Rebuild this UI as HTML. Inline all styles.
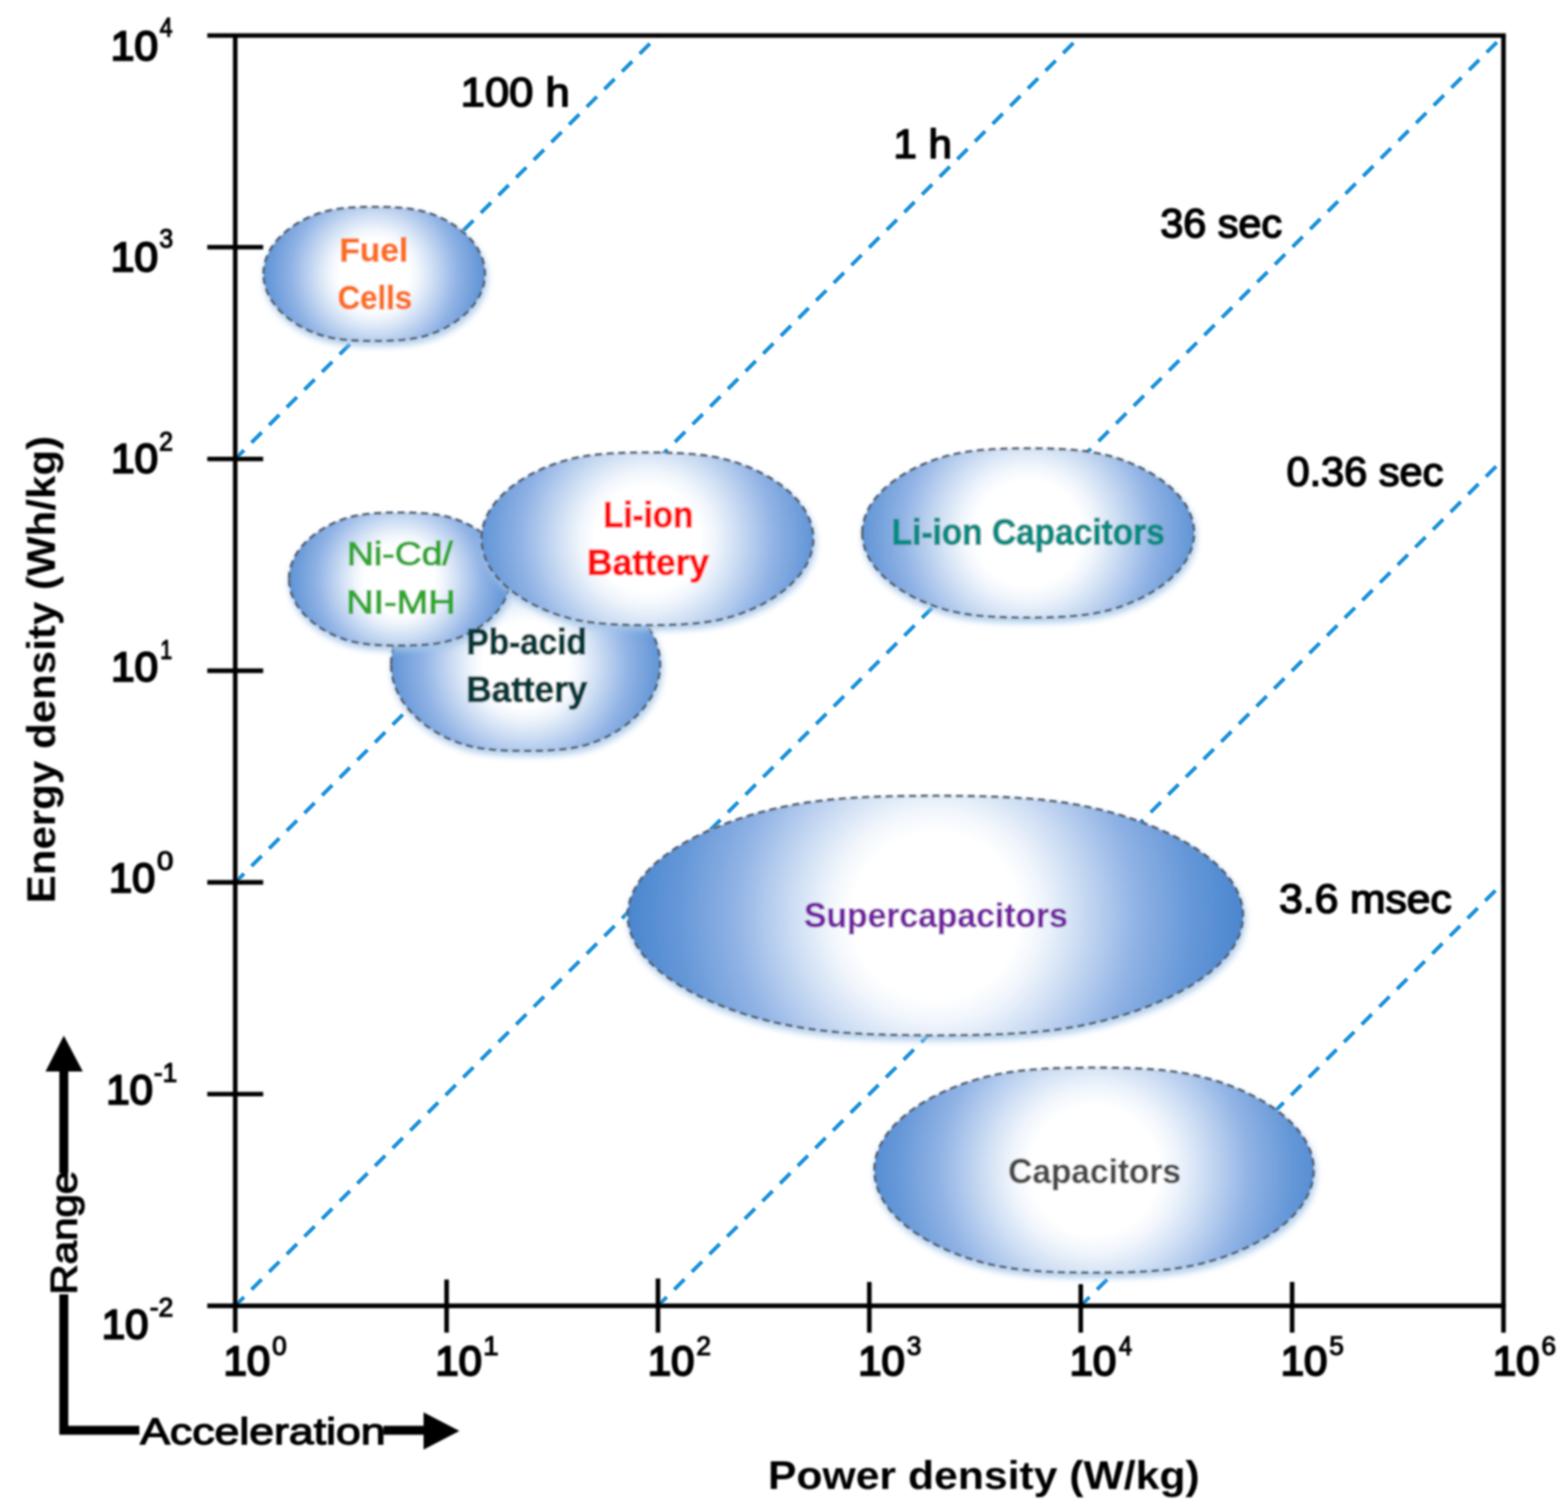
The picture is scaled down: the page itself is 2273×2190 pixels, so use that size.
<!DOCTYPE html>
<html lang="en"><head><meta charset="utf-8"><title>Ragone plot</title>
<style>html,body{margin:0;padding:0;background:#fff}body{width:2273px;height:2190px;overflow:hidden}svg{display:block}text{font-family:"Liberation Sans", sans-serif}</style>
</head><body>
<svg xmlns="http://www.w3.org/2000/svg" width="2273" height="2190" viewBox="0 0 2273 2190">
<defs>
<radialGradient id="g_pb" gradientUnits="userSpaceOnUse" cx="762" cy="963" r="228.14999999999998">
<stop offset="0" stop-color="#ffffff"/><stop offset="0.27" stop-color="#ffffff"/><stop offset="0.345" stop-color="#f1f6fc"/><stop offset="0.47" stop-color="#cbdcf3"/><stop offset="0.65" stop-color="#91b3e5"/><stop offset="0.83" stop-color="#6698d8"/><stop offset="1" stop-color="#4a86cf"/></radialGradient>
<radialGradient id="g_nicd" gradientUnits="userSpaceOnUse" cx="579" cy="839.3" r="184.0">
<stop offset="0" stop-color="#ffffff"/><stop offset="0.27" stop-color="#ffffff"/><stop offset="0.345" stop-color="#f1f6fc"/><stop offset="0.47" stop-color="#cbdcf3"/><stop offset="0.65" stop-color="#91b3e5"/><stop offset="0.83" stop-color="#6698d8"/><stop offset="1" stop-color="#4a86cf"/></radialGradient>
<radialGradient id="g_fuel" gradientUnits="userSpaceOnUse" cx="542.5" cy="397" r="184.575">
<stop offset="0" stop-color="#ffffff"/><stop offset="0.27" stop-color="#ffffff"/><stop offset="0.345" stop-color="#f1f6fc"/><stop offset="0.47" stop-color="#cbdcf3"/><stop offset="0.65" stop-color="#91b3e5"/><stop offset="0.83" stop-color="#6698d8"/><stop offset="1" stop-color="#4a86cf"/></radialGradient>
<radialGradient id="g_liion" gradientUnits="userSpaceOnUse" cx="938.5" cy="781" r="281.385">
<stop offset="0" stop-color="#ffffff"/><stop offset="0.27" stop-color="#ffffff"/><stop offset="0.345" stop-color="#f1f6fc"/><stop offset="0.47" stop-color="#cbdcf3"/><stop offset="0.65" stop-color="#91b3e5"/><stop offset="0.83" stop-color="#6698d8"/><stop offset="1" stop-color="#4a86cf"/></radialGradient>
<radialGradient id="g_lic" gradientUnits="userSpaceOnUse" cx="1490.5" cy="772.5" r="281.385">
<stop offset="0" stop-color="#ffffff"/><stop offset="0.27" stop-color="#ffffff"/><stop offset="0.345" stop-color="#f1f6fc"/><stop offset="0.47" stop-color="#cbdcf3"/><stop offset="0.65" stop-color="#91b3e5"/><stop offset="0.83" stop-color="#6698d8"/><stop offset="1" stop-color="#4a86cf"/></radialGradient>
<radialGradient id="g_sup" gradientUnits="userSpaceOnUse" cx="1356" cy="1327" r="446.0">
<stop offset="0" stop-color="#ffffff"/><stop offset="0.27" stop-color="#ffffff"/><stop offset="0.345" stop-color="#f1f6fc"/><stop offset="0.47" stop-color="#cbdcf3"/><stop offset="0.65" stop-color="#91b3e5"/><stop offset="0.83" stop-color="#6698d8"/><stop offset="1" stop-color="#4a86cf"/></radialGradient>
<radialGradient id="g_cap" gradientUnits="userSpaceOnUse" cx="1586" cy="1696" r="343.98">
<stop offset="0" stop-color="#ffffff"/><stop offset="0.27" stop-color="#ffffff"/><stop offset="0.345" stop-color="#f1f6fc"/><stop offset="0.47" stop-color="#cbdcf3"/><stop offset="0.65" stop-color="#91b3e5"/><stop offset="0.83" stop-color="#6698d8"/><stop offset="1" stop-color="#4a86cf"/></radialGradient>
<filter id="glow" x="-20%" y="-20%" width="140%" height="140%"><feGaussianBlur stdDeviation="5"/></filter>
<filter id="soft2" x="-5%" y="-5%" width="110%" height="110%"><feGaussianBlur stdDeviation="1.2"/></filter>
<filter id="soft" x="-5%" y="-5%" width="110%" height="110%"><feGaussianBlur stdDeviation="1.5"/></filter>
</defs>
<rect width="2273" height="2190" fill="#ffffff"/>
<g stroke="#1b92da" stroke-width="5.6" stroke-dasharray="20.8 15.4" fill="none" filter="url(#soft2)">
<line x1="341.0" y1="665.2" x2="953.8" y2="51.5" stroke-dashoffset="2.8"/>
<line x1="341.0" y1="1278.9" x2="1566.7" y2="51.5" stroke-dashoffset="2.8"/>
<line x1="341.0" y1="1892.6" x2="2179.5" y2="51.5" stroke-dashoffset="2.8"/>
<line x1="953.8" y1="1892.6" x2="2179.5" y2="665.2" stroke-dashoffset="2.8"/>
<line x1="1566.7" y1="1892.6" x2="2179.5" y2="1278.9" stroke-dashoffset="2.8"/>
</g>
<g filter="url(#soft)">
<g stroke="#000" stroke-width="6.6" fill="none" stroke-linecap="butt">
<line x1="300.5" y1="51.5" x2="2182.8" y2="51.5"/>
<line x1="300.5" y1="1892.6" x2="2182.8" y2="1892.6"/>
<line x1="341.0" y1="51.5" x2="341.0" y2="1931.5"/>
<line x1="2179.5" y1="51.5" x2="2179.5" y2="1931.5"/>
<line x1="300.5" y1="1585.8" x2="381.5" y2="1585.8"/>
<line x1="300.5" y1="1278.9" x2="381.5" y2="1278.9"/>
<line x1="300.5" y1="972.1" x2="381.5" y2="972.1"/>
<line x1="300.5" y1="665.2" x2="381.5" y2="665.2"/>
<line x1="300.5" y1="358.3" x2="381.5" y2="358.3"/>
<line x1="647.4" y1="1854.5" x2="647.4" y2="1931.5"/>
<line x1="953.8" y1="1853" x2="953.8" y2="1931.5"/>
<line x1="1260.2" y1="1858" x2="1260.2" y2="1931.5"/>
<line x1="1566.7" y1="1861" x2="1566.7" y2="1931.5"/>
<line x1="1873.1" y1="1858" x2="1873.1" y2="1931.5"/>
</g>
<polygon points="567.0,969.0 567.2,963.2 567.7,957.4 568.7,951.6 570.0,945.8 571.7,940.1 573.7,934.4 576.1,928.8 578.9,923.3 582.0,917.9 585.5,912.5 589.3,907.3 593.4,902.2 597.9,897.2 602.6,892.4 607.7,887.7 613.1,883.1 618.8,878.7 624.7,874.5 630.9,870.5 637.4,866.7 644.1,863.1 651.0,859.7 658.2,856.6 665.5,853.8 673.0,851.3 680.7,849.1 688.6,847.3 696.6,845.8 704.8,844.7 713.0,843.7 721.4,843.0 729.8,842.5 738.3,842.1 746.8,841.9 755.4,841.7 764.0,841.7 772.6,841.7 781.2,841.9 789.7,842.1 798.2,842.5 806.6,843.0 815.0,843.7 823.2,844.7 831.4,845.8 839.4,847.3 847.3,849.1 855.0,851.3 862.5,853.8 869.8,856.6 877.0,859.7 883.9,863.1 890.6,866.7 897.1,870.5 903.3,874.5 909.2,878.7 914.9,883.1 920.3,887.7 925.4,892.4 930.1,897.2 934.6,902.2 938.7,907.3 942.5,912.5 946.0,917.9 949.1,923.3 951.9,928.8 954.3,934.4 956.3,940.1 958.0,945.8 959.3,951.6 960.3,957.4 960.8,963.2 961.0,969.0 960.8,974.8 960.3,980.6 959.3,986.4 958.0,992.2 956.3,997.9 954.3,1003.6 951.9,1009.2 949.1,1014.7 946.0,1020.1 942.5,1025.5 938.7,1030.7 934.6,1035.8 930.1,1040.8 925.4,1045.6 920.3,1050.3 914.9,1054.9 909.2,1059.3 903.3,1063.5 897.1,1067.5 890.6,1071.3 883.9,1074.9 877.0,1078.3 869.8,1081.4 862.5,1084.2 855.0,1086.7 847.3,1088.9 839.4,1090.7 831.4,1092.2 823.2,1093.3 815.0,1094.3 806.6,1095.0 798.2,1095.5 789.7,1095.9 781.2,1096.1 772.6,1096.3 764.0,1096.3 755.4,1096.3 746.8,1096.1 738.3,1095.9 729.8,1095.5 721.4,1095.0 713.0,1094.3 704.8,1093.3 696.6,1092.2 688.6,1090.7 680.7,1088.9 673.0,1086.7 665.5,1084.2 658.2,1081.4 651.0,1078.3 644.1,1074.9 637.4,1071.3 630.9,1067.5 624.7,1063.5 618.8,1059.3 613.1,1054.9 607.7,1050.3 602.6,1045.6 597.9,1040.8 593.4,1035.8 589.3,1030.7 585.5,1025.5 582.0,1020.1 578.9,1014.7 576.1,1009.2 573.7,1003.6 571.7,997.9 570.0,992.2 568.7,986.4 567.7,980.6 567.2,974.8" stroke-linejoin="round" fill="#a6c8ea" opacity="0.85" filter="url(#glow)"/>
<polygon points="567.0,963.0 567.2,957.3 567.7,951.5 568.7,945.8 570.0,940.2 571.6,934.5 573.6,929.0 576.0,923.4 578.8,918.0 581.8,912.7 585.3,907.4 589.0,902.3 593.1,897.2 597.5,892.3 602.3,887.6 607.3,882.9 612.6,878.5 618.2,874.1 624.1,870.0 630.3,866.0 636.7,862.3 643.3,858.7 650.2,855.4 657.2,852.4 664.5,849.6 672.0,847.1 679.6,845.0 687.4,843.2 695.3,841.8 703.4,840.6 711.5,839.7 719.8,839.0 728.1,838.5 736.5,838.1 745.0,837.9 753.5,837.7 762.0,837.7 770.5,837.7 779.0,837.9 787.5,838.1 795.9,838.5 804.2,839.0 812.5,839.7 820.6,840.6 828.7,841.8 836.6,843.2 844.4,845.0 852.0,847.1 859.5,849.6 866.8,852.4 873.8,855.4 880.7,858.7 887.3,862.3 893.7,866.0 899.9,870.0 905.8,874.1 911.4,878.5 916.7,882.9 921.7,887.6 926.5,892.3 930.9,897.2 935.0,902.3 938.7,907.4 942.2,912.7 945.2,918.0 948.0,923.4 950.4,929.0 952.4,934.5 954.0,940.2 955.3,945.8 956.3,951.5 956.8,957.3 957.0,963.0 956.8,968.7 956.3,974.5 955.3,980.2 954.0,985.8 952.4,991.5 950.4,997.0 948.0,1002.6 945.2,1008.0 942.2,1013.3 938.7,1018.6 935.0,1023.7 930.9,1028.8 926.5,1033.7 921.7,1038.4 916.7,1043.1 911.4,1047.5 905.8,1051.9 899.9,1056.0 893.7,1060.0 887.3,1063.7 880.7,1067.3 873.8,1070.6 866.8,1073.6 859.5,1076.4 852.0,1078.9 844.4,1081.0 836.6,1082.8 828.7,1084.2 820.6,1085.4 812.5,1086.3 804.2,1087.0 795.9,1087.5 787.5,1087.9 779.0,1088.1 770.5,1088.3 762.0,1088.3 753.5,1088.3 745.0,1088.1 736.5,1087.9 728.1,1087.5 719.8,1087.0 711.5,1086.3 703.4,1085.4 695.3,1084.2 687.4,1082.8 679.6,1081.0 672.0,1078.9 664.5,1076.4 657.2,1073.6 650.2,1070.6 643.3,1067.3 636.7,1063.7 630.3,1060.0 624.1,1056.0 618.2,1051.9 612.6,1047.5 607.3,1043.1 602.3,1038.4 597.5,1033.7 593.1,1028.8 589.0,1023.7 585.3,1018.6 581.8,1013.3 578.8,1008.0 576.0,1002.6 573.6,997.0 571.6,991.5 570.0,985.8 568.7,980.2 567.7,974.5 567.2,968.7" stroke-linejoin="round" fill="url(#g_pb)" stroke="#555d68" stroke-width="3.6" stroke-dasharray="10.5 6.5"/>
<polygon points="419.0,845.3 419.2,840.8 419.6,836.3 420.4,831.8 421.5,827.4 422.8,823.0 424.5,818.6 426.5,814.3 428.8,810.0 431.3,805.8 434.2,801.7 437.3,797.7 440.7,793.7 444.4,789.9 448.3,786.1 452.5,782.5 456.9,779.0 461.6,775.6 466.4,772.3 471.6,769.2 476.9,766.3 482.4,763.5 488.1,760.9 494.0,758.5 500.0,756.3 506.2,754.4 512.5,752.7 519.0,751.3 525.6,750.2 532.3,749.3 539.1,748.6 545.9,748.0 552.9,747.6 559.9,747.3 566.9,747.1 573.9,747.0 581.0,747.0 588.1,747.0 595.1,747.1 602.1,747.3 609.1,747.6 616.1,748.0 622.9,748.6 629.7,749.3 636.4,750.2 643.0,751.3 649.5,752.7 655.8,754.4 662.0,756.3 668.0,758.5 673.9,760.9 679.6,763.5 685.1,766.3 690.4,769.2 695.6,772.3 700.4,775.6 705.1,779.0 709.5,782.5 713.7,786.1 717.6,789.9 721.3,793.7 724.7,797.7 727.8,801.7 730.7,805.8 733.2,810.0 735.5,814.3 737.5,818.6 739.2,823.0 740.5,827.4 741.6,831.8 742.4,836.3 742.8,840.8 743.0,845.3 742.8,849.8 742.4,854.3 741.6,858.8 740.5,863.2 739.2,867.6 737.5,872.0 735.5,876.3 733.2,880.6 730.7,884.8 727.8,888.9 724.7,892.9 721.3,896.9 717.6,900.7 713.7,904.5 709.5,908.1 705.1,911.6 700.4,915.0 695.6,918.3 690.4,921.4 685.1,924.3 679.6,927.1 673.9,929.7 668.0,932.1 662.0,934.3 655.8,936.2 649.5,937.9 643.0,939.3 636.4,940.4 629.7,941.3 622.9,942.0 616.1,942.6 609.1,943.0 602.1,943.3 595.1,943.5 588.1,943.6 581.0,943.6 573.9,943.6 566.9,943.5 559.9,943.3 552.9,943.0 545.9,942.6 539.1,942.0 532.3,941.3 525.6,940.4 519.0,939.3 512.5,937.9 506.2,936.2 500.0,934.3 494.0,932.1 488.1,929.7 482.4,927.1 476.9,924.3 471.6,921.4 466.4,918.3 461.6,915.0 456.9,911.6 452.5,908.1 448.3,904.5 444.4,900.7 440.7,896.9 437.3,892.9 434.2,888.9 431.3,884.8 428.8,880.6 426.5,876.3 424.5,872.0 422.8,867.6 421.5,863.2 420.4,858.8 419.6,854.3 419.2,849.8" stroke-linejoin="round" fill="#a6c8ea" opacity="0.85" filter="url(#glow)"/>
<polygon points="419.0,839.3 419.2,834.9 419.6,830.5 420.4,826.1 421.4,821.7 422.8,817.4 424.5,813.1 426.4,808.9 428.6,804.7 431.2,800.6 434.0,796.6 437.1,792.6 440.4,788.8 444.1,785.0 447.9,781.3 452.1,777.8 456.4,774.3 461.0,771.0 465.9,767.8 470.9,764.8 476.2,761.9 481.6,759.2 487.2,756.6 493.0,754.3 499.0,752.1 505.1,750.3 511.4,748.6 517.8,747.3 524.3,746.1 530.9,745.2 537.6,744.5 544.4,744.0 551.2,743.6 558.1,743.3 565.1,743.1 572.0,743.0 579.0,743.0 586.0,743.0 592.9,743.1 599.9,743.3 606.8,743.6 613.6,744.0 620.4,744.5 627.1,745.2 633.7,746.1 640.2,747.3 646.6,748.6 652.9,750.3 659.0,752.1 665.0,754.3 670.8,756.6 676.4,759.2 681.8,761.9 687.1,764.8 692.1,767.8 697.0,771.0 701.6,774.3 705.9,777.8 710.1,781.3 713.9,785.0 717.6,788.8 720.9,792.6 724.0,796.6 726.8,800.6 729.4,804.7 731.6,808.9 733.5,813.1 735.2,817.4 736.6,821.7 737.6,826.1 738.4,830.5 738.8,834.9 739.0,839.3 738.8,843.7 738.4,848.1 737.6,852.5 736.6,856.9 735.2,861.2 733.5,865.5 731.6,869.7 729.4,873.9 726.8,878.0 724.0,882.0 720.9,886.0 717.6,889.8 713.9,893.6 710.1,897.3 705.9,900.8 701.6,904.3 697.0,907.6 692.1,910.8 687.1,913.8 681.8,916.7 676.4,919.4 670.8,922.0 665.0,924.3 659.0,926.5 652.9,928.3 646.6,930.0 640.2,931.3 633.7,932.5 627.1,933.4 620.4,934.1 613.6,934.6 606.8,935.0 599.9,935.3 592.9,935.5 586.0,935.6 579.0,935.6 572.0,935.6 565.1,935.5 558.1,935.3 551.2,935.0 544.4,934.6 537.6,934.1 530.9,933.4 524.3,932.5 517.8,931.3 511.4,930.0 505.1,928.3 499.0,926.5 493.0,924.3 487.2,922.0 481.6,919.4 476.2,916.7 470.9,913.8 465.9,910.8 461.0,907.6 456.4,904.3 452.1,900.8 447.9,897.3 444.1,893.6 440.4,889.8 437.1,886.0 434.0,882.0 431.2,878.0 428.6,873.9 426.4,869.7 424.5,865.5 422.8,861.2 421.4,856.9 420.4,852.5 419.6,848.1 419.2,843.7" stroke-linejoin="round" fill="url(#g_nicd)" stroke="#555d68" stroke-width="3.6" stroke-dasharray="10.5 6.5"/>
<polygon points="382.0,403.0 382.2,398.5 382.6,393.9 383.4,389.4 384.5,385.0 385.9,380.5 387.5,376.1 389.5,371.8 391.8,367.5 394.4,363.2 397.2,359.1 400.4,355.0 403.8,351.0 407.4,347.2 411.4,343.4 415.6,339.7 420.0,336.2 424.7,332.8 429.6,329.5 434.7,326.4 440.0,323.4 445.6,320.6 451.3,318.0 457.2,315.6 463.2,313.4 469.5,311.5 475.8,309.8 482.3,308.4 488.9,307.2 495.6,306.3 502.4,305.6 509.3,305.0 516.3,304.6 523.3,304.3 530.3,304.1 537.4,304.0 544.5,304.0 551.6,304.0 558.7,304.1 565.7,304.3 572.7,304.6 579.7,305.0 586.6,305.6 593.4,306.3 600.1,307.2 606.7,308.4 613.2,309.8 619.5,311.5 625.8,313.4 631.8,315.6 637.7,318.0 643.4,320.6 649.0,323.4 654.3,326.4 659.4,329.5 664.3,332.8 669.0,336.2 673.4,339.7 677.6,343.4 681.6,347.2 685.2,351.0 688.6,355.0 691.8,359.1 694.6,363.2 697.2,367.5 699.5,371.8 701.5,376.1 703.1,380.5 704.5,385.0 705.6,389.4 706.4,393.9 706.8,398.5 707.0,403.0 706.8,407.5 706.4,412.1 705.6,416.6 704.5,421.0 703.1,425.5 701.5,429.9 699.5,434.2 697.2,438.5 694.6,442.8 691.8,446.9 688.6,451.0 685.2,455.0 681.6,458.8 677.6,462.6 673.4,466.3 669.0,469.8 664.3,473.2 659.4,476.5 654.3,479.6 649.0,482.6 643.4,485.4 637.7,488.0 631.8,490.4 625.8,492.6 619.5,494.5 613.2,496.2 606.7,497.6 600.1,498.8 593.4,499.7 586.6,500.4 579.7,501.0 572.7,501.4 565.7,501.7 558.7,501.9 551.6,502.0 544.5,502.0 537.4,502.0 530.3,501.9 523.3,501.7 516.3,501.4 509.3,501.0 502.4,500.4 495.6,499.7 488.9,498.8 482.3,497.6 475.8,496.2 469.5,494.5 463.2,492.6 457.2,490.4 451.3,488.0 445.6,485.4 440.0,482.6 434.7,479.6 429.6,476.5 424.7,473.2 420.0,469.8 415.6,466.3 411.4,462.6 407.4,458.8 403.8,455.0 400.4,451.0 397.2,446.9 394.4,442.8 391.8,438.5 389.5,434.2 387.5,429.9 385.9,425.5 384.5,421.0 383.4,416.6 382.6,412.1 382.2,407.5" stroke-linejoin="round" fill="#a6c8ea" opacity="0.85" filter="url(#glow)"/>
<polygon points="382.0,397.0 382.2,392.6 382.6,388.1 383.4,383.7 384.4,379.3 385.8,375.0 387.5,370.6 389.4,366.4 391.7,362.2 394.2,358.0 397.0,354.0 400.1,350.0 403.5,346.1 407.1,342.3 411.0,338.6 415.2,335.0 419.5,331.6 424.2,328.2 429.0,325.0 434.1,321.9 439.3,319.0 444.8,316.3 450.4,313.7 456.3,311.4 462.2,309.2 468.4,307.3 474.7,305.7 481.1,304.3 487.6,303.2 494.2,302.2 501.0,301.5 507.8,301.0 514.6,300.6 521.6,300.3 528.5,300.1 535.5,300.0 542.5,300.0 549.5,300.0 556.5,300.1 563.4,300.3 570.4,300.6 577.2,301.0 584.0,301.5 590.8,302.2 597.4,303.2 603.9,304.3 610.3,305.7 616.6,307.3 622.8,309.2 628.7,311.4 634.6,313.7 640.2,316.3 645.7,319.0 650.9,321.9 656.0,325.0 660.8,328.2 665.5,331.6 669.8,335.0 674.0,338.6 677.9,342.3 681.5,346.1 684.9,350.0 688.0,354.0 690.8,358.0 693.3,362.2 695.6,366.4 697.5,370.6 699.2,375.0 700.6,379.3 701.6,383.7 702.4,388.1 702.8,392.6 703.0,397.0 702.8,401.4 702.4,405.9 701.6,410.3 700.6,414.7 699.2,419.0 697.5,423.4 695.6,427.6 693.3,431.8 690.8,436.0 688.0,440.0 684.9,444.0 681.5,447.9 677.9,451.7 674.0,455.4 669.8,459.0 665.5,462.4 660.8,465.8 656.0,469.0 650.9,472.1 645.7,475.0 640.2,477.7 634.6,480.3 628.7,482.6 622.8,484.8 616.6,486.7 610.3,488.3 603.9,489.7 597.4,490.8 590.8,491.8 584.0,492.5 577.2,493.0 570.4,493.4 563.4,493.7 556.5,493.9 549.5,494.0 542.5,494.0 535.5,494.0 528.5,493.9 521.6,493.7 514.6,493.4 507.8,493.0 501.0,492.5 494.2,491.8 487.6,490.8 481.1,489.7 474.7,488.3 468.4,486.7 462.2,484.8 456.3,482.6 450.4,480.3 444.8,477.7 439.3,475.0 434.1,472.1 429.0,469.0 424.2,465.8 419.5,462.4 415.2,459.0 411.0,455.4 407.1,451.7 403.5,447.9 400.1,444.0 397.0,440.0 394.2,436.0 391.7,431.8 389.4,427.6 387.5,423.4 385.8,419.0 384.4,414.7 383.4,410.3 382.6,405.9 382.2,401.4" stroke-linejoin="round" fill="url(#g_fuel)" stroke="#555d68" stroke-width="3.6" stroke-dasharray="10.5 6.5"/>
<polygon points="698.0,787.0 698.2,781.2 698.9,775.4 700.1,769.6 701.7,763.9 703.7,758.1 706.3,752.5 709.2,746.9 712.6,741.4 716.5,736.0 720.7,730.7 725.4,725.4 730.5,720.3 736.0,715.4 741.9,710.5 748.1,705.8 754.7,701.3 761.7,696.9 769.0,692.7 776.7,688.7 784.6,684.9 792.9,681.3 801.4,678.0 810.2,674.9 819.2,672.1 828.5,669.6 838.0,667.4 847.7,665.6 857.6,664.1 867.6,662.9 877.7,662.0 888.0,661.3 898.4,660.8 908.8,660.4 919.4,660.2 929.9,660.0 940.5,660.0 951.1,660.0 961.6,660.2 972.2,660.4 982.6,660.8 993.0,661.3 1003.3,662.0 1013.4,662.9 1023.4,664.1 1033.3,665.6 1043.0,667.4 1052.5,669.6 1061.8,672.1 1070.8,674.9 1079.6,678.0 1088.1,681.3 1096.4,684.9 1104.3,688.7 1112.0,692.7 1119.3,696.9 1126.3,701.3 1132.9,705.8 1139.1,710.5 1145.0,715.4 1150.5,720.3 1155.6,725.4 1160.3,730.7 1164.5,736.0 1168.4,741.4 1171.8,746.9 1174.7,752.5 1177.3,758.1 1179.3,763.9 1180.9,769.6 1182.1,775.4 1182.8,781.2 1183.0,787.0 1182.8,792.8 1182.1,798.6 1180.9,804.4 1179.3,810.1 1177.3,815.9 1174.7,821.5 1171.8,827.1 1168.4,832.6 1164.5,838.0 1160.3,843.3 1155.6,848.6 1150.5,853.7 1145.0,858.6 1139.1,863.5 1132.9,868.2 1126.3,872.7 1119.3,877.1 1112.0,881.3 1104.3,885.3 1096.4,889.1 1088.1,892.7 1079.6,896.0 1070.8,899.1 1061.8,901.9 1052.5,904.4 1043.0,906.6 1033.3,908.4 1023.4,909.9 1013.4,911.1 1003.3,912.0 993.0,912.7 982.6,913.2 972.2,913.6 961.6,913.8 951.1,914.0 940.5,914.0 929.9,914.0 919.4,913.8 908.8,913.6 898.4,913.2 888.0,912.7 877.7,912.0 867.6,911.1 857.6,909.9 847.7,908.4 838.0,906.6 828.5,904.4 819.2,901.9 810.2,899.1 801.4,896.0 792.9,892.7 784.6,889.1 776.7,885.3 769.0,881.3 761.7,877.1 754.7,872.7 748.1,868.2 741.9,863.5 736.0,858.6 730.5,853.7 725.4,848.6 720.7,843.3 716.5,838.0 712.6,832.6 709.2,827.1 706.3,821.5 703.7,815.9 701.7,810.1 700.1,804.4 698.9,798.6 698.2,792.8" stroke-linejoin="round" fill="#a6c8ea" opacity="0.85" filter="url(#glow)"/>
<polygon points="698.0,781.0 698.2,775.3 698.9,769.6 700.1,763.9 701.7,758.2 703.7,752.6 706.2,747.0 709.1,741.5 712.5,736.1 716.3,730.8 720.5,725.5 725.2,720.4 730.2,715.4 735.7,710.5 741.5,705.7 747.7,701.1 754.3,696.7 761.2,692.4 768.4,688.2 776.0,684.3 783.9,680.5 792.1,677.0 800.6,673.7 809.3,670.6 818.2,667.9 827.4,665.4 836.9,663.3 846.5,661.5 856.2,660.1 866.2,658.9 876.3,658.0 886.4,657.3 896.7,656.8 907.1,656.4 917.5,656.2 928.0,656.0 938.5,656.0 949.0,656.0 959.5,656.2 969.9,656.4 980.3,656.8 990.6,657.3 1000.7,658.0 1010.8,658.9 1020.8,660.1 1030.5,661.5 1040.1,663.3 1049.6,665.4 1058.8,667.9 1067.7,670.6 1076.4,673.7 1084.9,677.0 1093.1,680.5 1101.0,684.3 1108.6,688.2 1115.8,692.4 1122.7,696.7 1129.3,701.1 1135.5,705.7 1141.3,710.5 1146.8,715.4 1151.8,720.4 1156.5,725.5 1160.7,730.8 1164.5,736.1 1167.9,741.5 1170.8,747.0 1173.3,752.6 1175.3,758.2 1176.9,763.9 1178.1,769.6 1178.8,775.3 1179.0,781.0 1178.8,786.7 1178.1,792.4 1176.9,798.1 1175.3,803.8 1173.3,809.4 1170.8,815.0 1167.9,820.5 1164.5,825.9 1160.7,831.2 1156.5,836.5 1151.8,841.6 1146.8,846.6 1141.3,851.5 1135.5,856.3 1129.3,860.9 1122.7,865.3 1115.8,869.6 1108.6,873.8 1101.0,877.7 1093.1,881.5 1084.9,885.0 1076.4,888.3 1067.7,891.4 1058.8,894.1 1049.6,896.6 1040.1,898.7 1030.5,900.5 1020.8,901.9 1010.8,903.1 1000.7,904.0 990.6,904.7 980.3,905.2 969.9,905.6 959.5,905.8 949.0,906.0 938.5,906.0 928.0,906.0 917.5,905.8 907.1,905.6 896.7,905.2 886.4,904.7 876.3,904.0 866.2,903.1 856.2,901.9 846.5,900.5 836.9,898.7 827.4,896.6 818.2,894.1 809.3,891.4 800.6,888.3 792.1,885.0 783.9,881.5 776.0,877.7 768.4,873.8 761.2,869.6 754.3,865.3 747.7,860.9 741.5,856.3 735.7,851.5 730.2,846.6 725.2,841.6 720.5,836.5 716.3,831.2 712.5,825.9 709.1,820.5 706.2,815.0 703.7,809.4 701.7,803.8 700.1,798.1 698.9,792.4 698.2,786.7" stroke-linejoin="round" fill="url(#g_liion)" stroke="#555d68" stroke-width="3.6" stroke-dasharray="10.5 6.5"/>
<polygon points="1250.0,778.5 1250.2,772.8 1250.9,767.1 1252.1,761.4 1253.7,755.8 1255.7,750.2 1258.3,744.7 1261.2,739.2 1264.6,733.8 1268.5,728.5 1272.7,723.3 1277.4,718.2 1282.5,713.2 1288.0,708.3 1293.9,703.5 1300.1,698.9 1306.7,694.5 1313.7,690.2 1321.0,686.1 1328.7,682.2 1336.6,678.4 1344.9,674.9 1353.4,671.6 1362.2,668.6 1371.2,665.8 1380.5,663.4 1390.0,661.3 1399.7,659.5 1409.6,658.0 1419.6,656.9 1429.7,656.0 1440.0,655.3 1450.4,654.8 1460.8,654.4 1471.4,654.2 1481.9,654.0 1492.5,654.0 1503.1,654.0 1513.6,654.2 1524.2,654.4 1534.6,654.8 1545.0,655.3 1555.3,656.0 1565.4,656.9 1575.4,658.0 1585.3,659.5 1595.0,661.3 1604.5,663.4 1613.8,665.8 1622.8,668.6 1631.6,671.6 1640.1,674.9 1648.4,678.4 1656.3,682.2 1664.0,686.1 1671.3,690.2 1678.3,694.5 1684.9,698.9 1691.1,703.5 1697.0,708.3 1702.5,713.2 1707.6,718.2 1712.3,723.3 1716.5,728.5 1720.4,733.8 1723.8,739.2 1726.7,744.7 1729.3,750.2 1731.3,755.8 1732.9,761.4 1734.1,767.1 1734.8,772.8 1735.0,778.5 1734.8,784.2 1734.1,789.9 1732.9,795.6 1731.3,801.2 1729.3,806.8 1726.7,812.3 1723.8,817.8 1720.4,823.2 1716.5,828.5 1712.3,833.7 1707.6,838.8 1702.5,843.8 1697.0,848.7 1691.1,853.5 1684.9,858.1 1678.3,862.5 1671.3,866.8 1664.0,870.9 1656.3,874.8 1648.4,878.6 1640.1,882.1 1631.6,885.4 1622.8,888.4 1613.8,891.2 1604.5,893.6 1595.0,895.7 1585.3,897.5 1575.4,899.0 1565.4,900.1 1555.3,901.0 1545.0,901.7 1534.6,902.2 1524.2,902.6 1513.6,902.8 1503.1,903.0 1492.5,903.0 1481.9,903.0 1471.4,902.8 1460.8,902.6 1450.4,902.2 1440.0,901.7 1429.7,901.0 1419.6,900.1 1409.6,899.0 1399.7,897.5 1390.0,895.7 1380.5,893.6 1371.2,891.2 1362.2,888.4 1353.4,885.4 1344.9,882.1 1336.6,878.6 1328.7,874.8 1321.0,870.9 1313.7,866.8 1306.7,862.5 1300.1,858.1 1293.9,853.5 1288.0,848.7 1282.5,843.8 1277.4,838.8 1272.7,833.7 1268.5,828.5 1264.6,823.2 1261.2,817.8 1258.3,812.3 1255.7,806.8 1253.7,801.2 1252.1,795.6 1250.9,789.9 1250.2,784.2" stroke-linejoin="round" fill="#a6c8ea" opacity="0.85" filter="url(#glow)"/>
<polygon points="1250.0,772.5 1250.2,766.9 1250.9,761.3 1252.1,755.7 1253.7,750.2 1255.7,744.7 1258.2,739.2 1261.1,733.8 1264.5,728.5 1268.3,723.3 1272.5,718.2 1277.2,713.1 1282.2,708.2 1287.7,703.4 1293.5,698.7 1299.7,694.2 1306.3,689.8 1313.2,685.6 1320.4,681.6 1328.0,677.7 1335.9,674.0 1344.1,670.6 1352.6,667.3 1361.3,664.3 1370.2,661.6 1379.4,659.2 1388.9,657.2 1398.5,655.4 1408.2,654.0 1418.2,652.8 1428.3,652.0 1438.4,651.3 1448.7,650.8 1459.1,650.4 1469.5,650.2 1480.0,650.0 1490.5,650.0 1501.0,650.0 1511.5,650.2 1521.9,650.4 1532.3,650.8 1542.6,651.3 1552.7,652.0 1562.8,652.8 1572.8,654.0 1582.5,655.4 1592.1,657.2 1601.6,659.2 1610.8,661.6 1619.7,664.3 1628.4,667.3 1636.9,670.6 1645.1,674.0 1653.0,677.7 1660.6,681.6 1667.8,685.6 1674.7,689.8 1681.3,694.2 1687.5,698.7 1693.3,703.4 1698.8,708.2 1703.8,713.1 1708.5,718.2 1712.7,723.3 1716.5,728.5 1719.9,733.8 1722.8,739.2 1725.3,744.7 1727.3,750.2 1728.9,755.7 1730.1,761.3 1730.8,766.9 1731.0,772.5 1730.8,778.1 1730.1,783.7 1728.9,789.3 1727.3,794.8 1725.3,800.3 1722.8,805.8 1719.9,811.2 1716.5,816.5 1712.7,821.7 1708.5,826.8 1703.8,831.9 1698.8,836.8 1693.3,841.6 1687.5,846.3 1681.3,850.8 1674.7,855.2 1667.8,859.4 1660.6,863.4 1653.0,867.3 1645.1,871.0 1636.9,874.4 1628.4,877.7 1619.7,880.7 1610.8,883.4 1601.6,885.8 1592.1,887.8 1582.5,889.6 1572.8,891.0 1562.8,892.2 1552.7,893.0 1542.6,893.7 1532.3,894.2 1521.9,894.6 1511.5,894.8 1501.0,895.0 1490.5,895.0 1480.0,895.0 1469.5,894.8 1459.1,894.6 1448.7,894.2 1438.4,893.7 1428.3,893.0 1418.2,892.2 1408.2,891.0 1398.5,889.6 1388.9,887.8 1379.4,885.8 1370.2,883.4 1361.3,880.7 1352.6,877.7 1344.1,874.4 1335.9,871.0 1328.0,867.3 1320.4,863.4 1313.2,859.4 1306.3,855.2 1299.7,850.8 1293.5,846.3 1287.7,841.6 1282.2,836.8 1277.2,831.9 1272.5,826.8 1268.3,821.7 1264.5,816.5 1261.1,811.2 1258.2,805.8 1255.7,800.3 1253.7,794.8 1252.1,789.3 1250.9,783.7 1250.2,778.1" stroke-linejoin="round" fill="url(#g_lic)" stroke="#555d68" stroke-width="3.6" stroke-dasharray="10.5 6.5"/>
<polygon points="910.0,1333.0 910.4,1325.0 911.7,1316.9 913.8,1309.0 916.8,1301.0 920.6,1293.1 925.3,1285.3 930.7,1277.6 937.0,1270.0 944.1,1262.5 952.0,1255.1 960.6,1247.9 970.0,1240.9 980.2,1234.0 991.0,1227.3 1002.6,1220.9 1014.8,1214.6 1027.7,1208.5 1041.2,1202.7 1055.3,1197.2 1070.0,1191.9 1085.3,1187.0 1101.0,1182.3 1117.3,1178.0 1134.0,1174.2 1151.1,1170.7 1168.7,1167.7 1186.6,1165.2 1204.8,1163.2 1223.3,1161.6 1242.0,1160.3 1261.0,1159.3 1280.2,1158.6 1299.5,1158.1 1319.0,1157.8 1338.5,1157.6 1358.0,1157.5 1377.5,1157.6 1397.0,1157.8 1416.5,1158.1 1435.8,1158.6 1455.0,1159.3 1474.0,1160.3 1492.7,1161.6 1511.2,1163.2 1529.4,1165.2 1547.3,1167.7 1564.9,1170.7 1582.0,1174.2 1598.7,1178.0 1615.0,1182.3 1630.7,1187.0 1646.0,1191.9 1660.7,1197.2 1674.8,1202.7 1688.3,1208.5 1701.2,1214.6 1713.4,1220.9 1725.0,1227.3 1735.8,1234.0 1746.0,1240.9 1755.4,1247.9 1764.0,1255.1 1771.9,1262.5 1779.0,1270.0 1785.3,1277.6 1790.7,1285.3 1795.4,1293.1 1799.2,1301.0 1802.2,1309.0 1804.3,1316.9 1805.6,1325.0 1806.0,1333.0 1805.6,1341.0 1804.3,1349.1 1802.2,1357.0 1799.2,1365.0 1795.4,1372.9 1790.7,1380.7 1785.3,1388.4 1779.0,1396.0 1771.9,1403.5 1764.0,1410.9 1755.4,1418.1 1746.0,1425.1 1735.8,1432.0 1725.0,1438.7 1713.4,1445.1 1701.2,1451.4 1688.3,1457.5 1674.8,1463.3 1660.7,1468.8 1646.0,1474.1 1630.7,1479.0 1615.0,1483.7 1598.7,1488.0 1582.0,1491.8 1564.9,1495.3 1547.3,1498.3 1529.4,1500.8 1511.2,1502.8 1492.7,1504.4 1474.0,1505.7 1455.0,1506.7 1435.8,1507.4 1416.5,1507.9 1397.0,1508.2 1377.5,1508.4 1358.0,1508.5 1338.5,1508.4 1319.0,1508.2 1299.5,1507.9 1280.2,1507.4 1261.0,1506.7 1242.0,1505.7 1223.3,1504.4 1204.8,1502.8 1186.6,1500.8 1168.7,1498.3 1151.1,1495.3 1134.0,1491.8 1117.3,1488.0 1101.0,1483.7 1085.3,1479.0 1070.0,1474.1 1055.3,1468.8 1041.2,1463.3 1027.7,1457.5 1014.8,1451.4 1002.6,1445.1 991.0,1438.7 980.2,1432.0 970.0,1425.1 960.6,1418.1 952.0,1410.9 944.1,1403.5 937.0,1396.0 930.7,1388.4 925.3,1380.7 920.6,1372.9 916.8,1365.0 913.8,1357.0 911.7,1349.1 910.4,1341.0" stroke-linejoin="round" fill="#a6c8ea" opacity="0.85" filter="url(#glow)"/>
<polygon points="910.0,1327.0 910.4,1319.1 911.7,1311.1 913.8,1303.2 916.8,1295.4 920.6,1287.6 925.2,1279.9 930.6,1272.2 936.9,1264.7 943.9,1257.3 951.8,1250.0 960.4,1242.9 969.8,1235.9 979.8,1229.1 990.7,1222.5 1002.2,1216.1 1014.3,1209.9 1027.2,1204.0 1040.6,1198.2 1054.7,1192.7 1069.3,1187.5 1084.5,1182.6 1100.2,1178.0 1116.4,1173.8 1133.0,1170.0 1150.1,1166.6 1167.5,1163.6 1185.3,1161.2 1203.5,1159.1 1221.9,1157.5 1240.6,1156.3 1259.5,1155.3 1278.6,1154.6 1297.8,1154.1 1317.1,1153.8 1336.5,1153.6 1356.0,1153.5 1375.5,1153.6 1394.9,1153.8 1414.2,1154.1 1433.4,1154.6 1452.5,1155.3 1471.4,1156.3 1490.1,1157.5 1508.5,1159.1 1526.7,1161.2 1544.5,1163.6 1561.9,1166.6 1579.0,1170.0 1595.6,1173.8 1611.8,1178.0 1627.5,1182.6 1642.7,1187.5 1657.3,1192.7 1671.4,1198.2 1684.8,1204.0 1697.7,1209.9 1709.8,1216.1 1721.3,1222.5 1732.2,1229.1 1742.2,1235.9 1751.6,1242.9 1760.2,1250.0 1768.1,1257.3 1775.1,1264.7 1781.4,1272.2 1786.8,1279.9 1791.4,1287.6 1795.2,1295.4 1798.2,1303.2 1800.3,1311.1 1801.6,1319.1 1802.0,1327.0 1801.6,1334.9 1800.3,1342.9 1798.2,1350.8 1795.2,1358.6 1791.4,1366.4 1786.8,1374.1 1781.4,1381.8 1775.1,1389.3 1768.1,1396.7 1760.2,1404.0 1751.6,1411.1 1742.2,1418.1 1732.2,1424.9 1721.3,1431.5 1709.8,1437.9 1697.7,1444.1 1684.8,1450.0 1671.4,1455.8 1657.3,1461.3 1642.7,1466.5 1627.5,1471.4 1611.8,1476.0 1595.6,1480.2 1579.0,1484.0 1561.9,1487.4 1544.5,1490.4 1526.7,1492.8 1508.5,1494.9 1490.1,1496.5 1471.4,1497.7 1452.5,1498.7 1433.4,1499.4 1414.2,1499.9 1394.9,1500.2 1375.5,1500.4 1356.0,1500.5 1336.5,1500.4 1317.1,1500.2 1297.8,1499.9 1278.6,1499.4 1259.5,1498.7 1240.6,1497.7 1221.9,1496.5 1203.5,1494.9 1185.3,1492.8 1167.5,1490.4 1150.1,1487.4 1133.0,1484.0 1116.4,1480.2 1100.2,1476.0 1084.5,1471.4 1069.3,1466.5 1054.7,1461.3 1040.6,1455.8 1027.2,1450.0 1014.3,1444.1 1002.2,1437.9 990.7,1431.5 979.8,1424.9 969.8,1418.1 960.4,1411.1 951.8,1404.0 943.9,1396.7 936.9,1389.3 930.6,1381.8 925.2,1374.1 920.6,1366.4 916.8,1358.6 913.8,1350.8 911.7,1342.9 910.4,1334.9" stroke-linejoin="round" fill="url(#g_sup)" stroke="#555d68" stroke-width="3.6" stroke-dasharray="10.5 6.5"/>
<polygon points="1267.5,1702.0 1267.8,1695.1 1268.7,1688.2 1270.2,1681.4 1272.4,1674.6 1275.1,1667.8 1278.4,1661.1 1282.3,1654.5 1286.8,1648.0 1291.9,1641.5 1297.5,1635.2 1303.7,1629.1 1310.4,1623.0 1317.7,1617.1 1325.5,1611.4 1333.7,1605.8 1342.5,1600.5 1351.7,1595.3 1361.4,1590.3 1371.5,1585.5 1382.0,1581.0 1392.9,1576.8 1404.2,1572.8 1415.8,1569.1 1427.8,1565.8 1440.0,1562.8 1452.6,1560.3 1465.3,1558.1 1478.4,1556.4 1491.6,1555.0 1505.0,1553.9 1518.6,1553.1 1532.3,1552.5 1546.2,1552.0 1560.1,1551.7 1574.0,1551.6 1588.0,1551.5 1602.0,1551.6 1615.9,1551.7 1629.8,1552.0 1643.7,1552.5 1657.4,1553.1 1671.0,1553.9 1684.4,1555.0 1697.6,1556.4 1710.7,1558.1 1723.4,1560.3 1736.0,1562.8 1748.2,1565.8 1760.2,1569.1 1771.8,1572.8 1783.1,1576.8 1794.0,1581.0 1804.5,1585.5 1814.6,1590.3 1824.3,1595.3 1833.5,1600.5 1842.3,1605.8 1850.5,1611.4 1858.3,1617.1 1865.6,1623.0 1872.3,1629.1 1878.5,1635.2 1884.1,1641.5 1889.2,1648.0 1893.7,1654.5 1897.6,1661.1 1900.9,1667.8 1903.6,1674.6 1905.8,1681.4 1907.3,1688.2 1908.2,1695.1 1908.5,1702.0 1908.2,1708.9 1907.3,1715.8 1905.8,1722.6 1903.6,1729.4 1900.9,1736.2 1897.6,1742.9 1893.7,1749.5 1889.2,1756.0 1884.1,1762.5 1878.5,1768.8 1872.3,1774.9 1865.6,1781.0 1858.3,1786.9 1850.5,1792.6 1842.3,1798.2 1833.5,1803.5 1824.3,1808.7 1814.6,1813.7 1804.5,1818.5 1794.0,1823.0 1783.1,1827.2 1771.8,1831.2 1760.2,1834.9 1748.2,1838.2 1736.0,1841.2 1723.4,1843.7 1710.7,1845.9 1697.6,1847.6 1684.4,1849.0 1671.0,1850.1 1657.4,1850.9 1643.7,1851.5 1629.8,1852.0 1615.9,1852.3 1602.0,1852.4 1588.0,1852.5 1574.0,1852.4 1560.1,1852.3 1546.2,1852.0 1532.3,1851.5 1518.6,1850.9 1505.0,1850.1 1491.6,1849.0 1478.4,1847.6 1465.3,1845.9 1452.6,1843.7 1440.0,1841.2 1427.8,1838.2 1415.8,1834.9 1404.2,1831.2 1392.9,1827.2 1382.0,1823.0 1371.5,1818.5 1361.4,1813.7 1351.7,1808.7 1342.5,1803.5 1333.7,1798.2 1325.5,1792.6 1317.7,1786.9 1310.4,1781.0 1303.7,1774.9 1297.5,1768.8 1291.9,1762.5 1286.8,1756.0 1282.3,1749.5 1278.4,1742.9 1275.1,1736.2 1272.4,1729.4 1270.2,1722.6 1268.7,1715.8 1267.8,1708.9" stroke-linejoin="round" fill="#a6c8ea" opacity="0.85" filter="url(#glow)"/>
<polygon points="1267.5,1696.0 1267.8,1689.2 1268.7,1682.4 1270.2,1675.7 1272.3,1668.9 1275.0,1662.3 1278.4,1655.7 1282.2,1649.1 1286.7,1642.7 1291.7,1636.3 1297.3,1630.1 1303.5,1624.0 1310.2,1618.1 1317.4,1612.2 1325.1,1606.6 1333.3,1601.1 1342.0,1595.8 1351.2,1590.7 1360.8,1585.8 1370.8,1581.1 1381.3,1576.6 1392.1,1572.4 1403.3,1568.5 1414.9,1564.9 1426.8,1561.6 1438.9,1558.7 1451.4,1556.2 1464.1,1554.1 1477.1,1552.3 1490.2,1550.9 1503.6,1549.9 1517.1,1549.0 1530.7,1548.4 1544.4,1548.0 1558.2,1547.7 1572.1,1547.6 1586.0,1547.5 1599.9,1547.6 1613.8,1547.7 1627.6,1548.0 1641.3,1548.4 1654.9,1549.0 1668.4,1549.9 1681.8,1550.9 1694.9,1552.3 1707.9,1554.1 1720.6,1556.2 1733.1,1558.7 1745.2,1561.6 1757.1,1564.9 1768.7,1568.5 1779.9,1572.4 1790.7,1576.6 1801.2,1581.1 1811.2,1585.8 1820.8,1590.7 1830.0,1595.8 1838.7,1601.1 1846.9,1606.6 1854.6,1612.2 1861.8,1618.1 1868.5,1624.0 1874.7,1630.1 1880.3,1636.3 1885.3,1642.7 1889.8,1649.1 1893.6,1655.7 1897.0,1662.3 1899.7,1668.9 1901.8,1675.7 1903.3,1682.4 1904.2,1689.2 1904.5,1696.0 1904.2,1702.8 1903.3,1709.6 1901.8,1716.3 1899.7,1723.1 1897.0,1729.7 1893.6,1736.3 1889.8,1742.9 1885.3,1749.3 1880.3,1755.7 1874.7,1761.9 1868.5,1768.0 1861.8,1773.9 1854.6,1779.8 1846.9,1785.4 1838.7,1790.9 1830.0,1796.2 1820.8,1801.3 1811.2,1806.2 1801.2,1810.9 1790.7,1815.4 1779.9,1819.6 1768.7,1823.5 1757.1,1827.1 1745.2,1830.4 1733.1,1833.3 1720.6,1835.8 1707.9,1837.9 1694.9,1839.7 1681.8,1841.1 1668.4,1842.1 1654.9,1843.0 1641.3,1843.6 1627.6,1844.0 1613.8,1844.3 1599.9,1844.4 1586.0,1844.5 1572.1,1844.4 1558.2,1844.3 1544.4,1844.0 1530.7,1843.6 1517.1,1843.0 1503.6,1842.1 1490.2,1841.1 1477.1,1839.7 1464.1,1837.9 1451.4,1835.8 1438.9,1833.3 1426.8,1830.4 1414.9,1827.1 1403.3,1823.5 1392.1,1819.6 1381.3,1815.4 1370.8,1810.9 1360.8,1806.2 1351.2,1801.3 1342.0,1796.2 1333.3,1790.9 1325.1,1785.4 1317.4,1779.8 1310.2,1773.9 1303.5,1768.0 1297.3,1761.9 1291.7,1755.7 1286.7,1749.3 1282.2,1742.9 1278.4,1736.3 1275.0,1729.7 1272.3,1723.1 1270.2,1716.3 1268.7,1709.6 1267.8,1702.8" stroke-linejoin="round" fill="url(#g_cap)" stroke="#555d68" stroke-width="3.6" stroke-dasharray="10.5 6.5"/>
<text x="160.4" y="87.1" font-size="59" fill="#000" stroke="#000" stroke-width="2.8" textLength="68.8" lengthAdjust="spacingAndGlyphs">10</text>
<text x="231.5" y="53.2" font-size="38" fill="#000" stroke="#000" stroke-width="1.6" textLength="18.6" lengthAdjust="spacingAndGlyphs">4</text>
<text x="160.4" y="392.6" font-size="59" fill="#000" stroke="#000" stroke-width="2.8" textLength="68.8" lengthAdjust="spacingAndGlyphs">10</text>
<text x="231.1" y="358.7" font-size="38" fill="#000" stroke="#000" stroke-width="1.6" textLength="20.0" lengthAdjust="spacingAndGlyphs">3</text>
<text x="160.9" y="684.6" font-size="59" fill="#000" stroke="#000" stroke-width="2.8" textLength="68.3" lengthAdjust="spacingAndGlyphs">10</text>
<text x="230.8" y="653.2" font-size="38" fill="#000" stroke="#000" stroke-width="1.6" textLength="20.0" lengthAdjust="spacingAndGlyphs">2</text>
<text x="160.9" y="986.6" font-size="59" fill="#000" stroke="#000" stroke-width="2.8" textLength="68.3" lengthAdjust="spacingAndGlyphs">10</text>
<text x="232.2" y="955.0" font-size="38" fill="#000" stroke="#000" stroke-width="1.6" textLength="17.4" lengthAdjust="spacingAndGlyphs">1</text>
<text x="158.1" y="1292.6" font-size="59" fill="#000" stroke="#000" stroke-width="2.8" textLength="67.0" lengthAdjust="spacingAndGlyphs">10</text>
<text x="227.5" y="1261.2" font-size="38" fill="#000" stroke="#000" stroke-width="1.6" textLength="23.8" lengthAdjust="spacingAndGlyphs">0</text>
<text x="153.9" y="1599.6" font-size="59" fill="#000" stroke="#000" stroke-width="2.8" textLength="67.8" lengthAdjust="spacingAndGlyphs">10</text>
<text x="223.0" y="1567.7" font-size="38" fill="#000" stroke="#000" stroke-width="1.6" textLength="33.8" lengthAdjust="spacingAndGlyphs">-1</text>
<text x="147.4" y="1939.6" font-size="59" fill="#000" stroke="#000" stroke-width="2.8" textLength="67.8" lengthAdjust="spacingAndGlyphs">10</text>
<text x="217.0" y="1908.0" font-size="38" fill="#000" stroke="#000" stroke-width="1.6" textLength="34.3" lengthAdjust="spacingAndGlyphs">-2</text>
<text x="323.9" y="1993.1" font-size="59" fill="#000" stroke="#000" stroke-width="2.8" textLength="67.8" lengthAdjust="spacingAndGlyphs">10</text>
<text x="394.5" y="1963.7" font-size="38" fill="#000" stroke="#000" stroke-width="1.6" textLength="21.1" lengthAdjust="spacingAndGlyphs">0</text>
<text x="630.9" y="1993.1" font-size="59" fill="#000" stroke="#000" stroke-width="2.8" textLength="67.8" lengthAdjust="spacingAndGlyphs">10</text>
<text x="700.4" y="1963.7" font-size="38" fill="#000" stroke="#000" stroke-width="1.6" textLength="22.3" lengthAdjust="spacingAndGlyphs">1</text>
<text x="938.9" y="1993.1" font-size="59" fill="#000" stroke="#000" stroke-width="2.8" textLength="67.8" lengthAdjust="spacingAndGlyphs">10</text>
<text x="1009.5" y="1963.7" font-size="38" fill="#000" stroke="#000" stroke-width="1.6" textLength="21.1" lengthAdjust="spacingAndGlyphs">2</text>
<text x="1243.9" y="1993.1" font-size="59" fill="#000" stroke="#000" stroke-width="2.8" textLength="67.8" lengthAdjust="spacingAndGlyphs">10</text>
<text x="1314.5" y="1963.7" font-size="38" fill="#000" stroke="#000" stroke-width="1.6" textLength="21.1" lengthAdjust="spacingAndGlyphs">3</text>
<text x="1550.4" y="1993.1" font-size="59" fill="#000" stroke="#000" stroke-width="2.8" textLength="67.8" lengthAdjust="spacingAndGlyphs">10</text>
<text x="1622.0" y="1963.7" font-size="38" fill="#000" stroke="#000" stroke-width="1.6" textLength="19.1" lengthAdjust="spacingAndGlyphs">4</text>
<text x="1856.4" y="1993.1" font-size="59" fill="#000" stroke="#000" stroke-width="2.8" textLength="67.8" lengthAdjust="spacingAndGlyphs">10</text>
<text x="1927.0" y="1963.7" font-size="38" fill="#000" stroke="#000" stroke-width="1.6" textLength="21.1" lengthAdjust="spacingAndGlyphs">5</text>
<text x="2163.9" y="1993.1" font-size="59" fill="#000" stroke="#000" stroke-width="2.8" textLength="67.8" lengthAdjust="spacingAndGlyphs">10</text>
<text x="2234.5" y="1963.7" font-size="38" fill="#000" stroke="#000" stroke-width="1.6" textLength="21.1" lengthAdjust="spacingAndGlyphs">6</text>
<text x="667.8" y="153.5" font-size="58.5" fill="#000" stroke="#000" stroke-width="2.2" textLength="158.1" lengthAdjust="spacingAndGlyphs">100 h</text>
<text x="1295.2" y="228.9" font-size="58.5" fill="#000" stroke="#000" stroke-width="2.2" textLength="84.6" lengthAdjust="spacingAndGlyphs">1 h</text>
<text x="1682.0" y="343.9" font-size="58.5" fill="#000" stroke="#000" stroke-width="2.2" textLength="176.4" lengthAdjust="spacingAndGlyphs">36 sec</text>
<text x="1865.0" y="703.5" font-size="58.5" fill="#000" stroke="#000" stroke-width="2.2" textLength="227.2" lengthAdjust="spacingAndGlyphs">0.36 sec</text>
<text x="1854.3" y="1322.5" font-size="58.5" fill="#000" stroke="#000" stroke-width="2.2" textLength="250.0" lengthAdjust="spacingAndGlyphs">3.6 msec</text>
<text x="491.9" y="378.5" font-size="47.5" font-weight="bold" fill="#fb6f17" stroke="#fb6f17" stroke-width="1.0" textLength="99.8" lengthAdjust="spacingAndGlyphs">Fuel</text>
<text x="489.5" y="448.3" font-size="47.5" font-weight="bold" fill="#fb6f17" stroke="#fb6f17" stroke-width="1.0" textLength="107.9" lengthAdjust="spacingAndGlyphs">Cells</text>
<text x="503.0" y="819.4" font-size="48.5" fill="#2ea82e" stroke="#2ea82e" stroke-width="1.7" textLength="153.4" lengthAdjust="spacingAndGlyphs">Ni-Cd/</text>
<text x="501.9" y="889.0" font-size="48.5" fill="#2ea82e" stroke="#2ea82e" stroke-width="1.7" textLength="158.6" lengthAdjust="spacingAndGlyphs">NI-MH</text>
<text x="874.5" y="763.8" font-size="51" font-weight="bold" fill="#ff0808" stroke="#ff0808" stroke-width="1.4" textLength="130.4" lengthAdjust="spacingAndGlyphs">Li-ion</text>
<text x="851.0" y="832.8" font-size="51" font-weight="bold" fill="#ff0808" stroke="#ff0808" stroke-width="1.4" textLength="176.8" lengthAdjust="spacingAndGlyphs">Battery</text>
<text x="676.2" y="947.8" font-size="51" font-weight="bold" fill="#063a3a" stroke="#063a3a" stroke-width="1.4" textLength="174.4" lengthAdjust="spacingAndGlyphs">Pb-acid</text>
<text x="676.0" y="1017.3" font-size="51" font-weight="bold" fill="#063a3a" stroke="#063a3a" stroke-width="1.4" textLength="175.2" lengthAdjust="spacingAndGlyphs">Battery</text>
<text x="1292.6" y="789.3" font-size="51" font-weight="bold" fill="#068c84" stroke="#068c84" stroke-width="1.4" textLength="395.8" lengthAdjust="spacingAndGlyphs">Li-ion Capacitors</text>
<text x="1165.5" y="1343.8" font-size="50" font-weight="bold" fill="#7422a2" stroke="#7422a2" stroke-width="0.5" textLength="382.3" lengthAdjust="spacingAndGlyphs">Supercapacitors</text>
<text x="1461.6" y="1714.8" font-size="50" font-weight="bold" fill="#4a4a4a" stroke="#4a4a4a" stroke-width="0.5" textLength="250.3" lengthAdjust="spacingAndGlyphs">Capacitors</text>
<text x="-4.2" y="0" font-size="57.5" font-weight="bold" fill="#000" textLength="677.4" lengthAdjust="spacingAndGlyphs" transform="translate(79.6 1305.0) rotate(-90)">Energy density (Wh/kg)</text>
<text x="1113.2" y="2158.3" font-size="57.5" font-weight="bold" fill="#000" textLength="626.0" lengthAdjust="spacingAndGlyphs">Power density (W/kg)</text>
<text x="-4.5" y="0" font-size="54.5" fill="#000" stroke="#000" stroke-width="1.8" textLength="179.8" lengthAdjust="spacingAndGlyphs" transform="translate(111.1 1872.0) rotate(-90)">Range</text>
<text x="203.2" y="2093.1" font-size="54.5" fill="#000" stroke="#000" stroke-width="1.8" textLength="355.8" lengthAdjust="spacingAndGlyphs">Acceleration</text>
<g fill="#000" stroke="none">
<path d="M86 1876 H99 V2066.5 H202 V2079.5 H86 Z"/>
<rect x="86" y="1550" width="13" height="150"/>
<polygon points="66,1553 92.5,1501 120,1553"/>
<rect x="556" y="2066.5" width="60" height="13"/>
<polygon points="614,2047 666,2074 614,2101"/>
</g>
</g>
</svg>
</body></html>
